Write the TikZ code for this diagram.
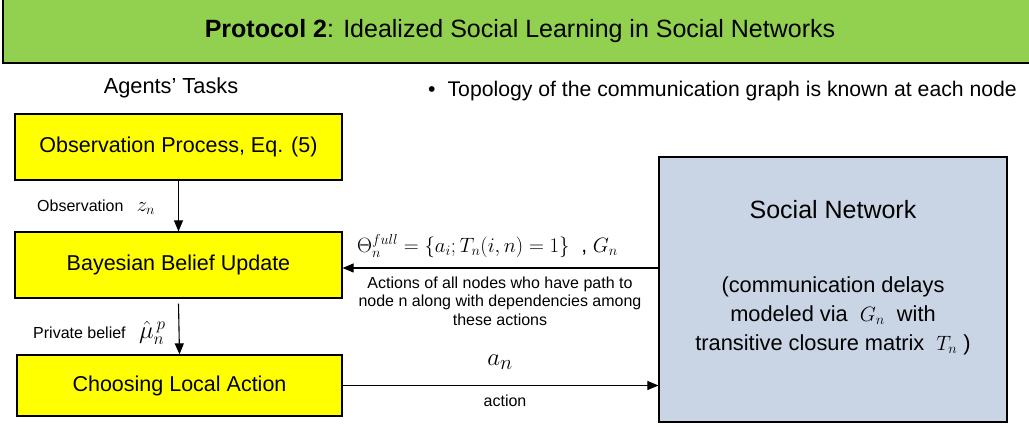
\documentclass[tikz,border=0pt]{standalone}
\usepackage{fontspec}
\setmainfont{Liberation Sans}
\usetikzlibrary{arrows.meta}
\definecolor{titlegreen}{HTML}{92D050}
\definecolor{boxyellow}{HTML}{FFFF00}
\definecolor{snblue}{HTML}{C9D5E4}
\tikzset{
  ybox/.style={draw=black, line width=1.2pt, fill=boxyellow, minimum width=327pt, minimum height=66pt, inner sep=0pt, font=\fontsize{21.5}{25}\selectfont},
  snbox/.style={draw=black, line width=1.2pt, fill=snblue, minimum width=348pt, minimum height=265pt, inner sep=0pt},
  arr/.style={line width=1.1pt, -{Triangle[length=11pt,width=9pt]}},
  small/.style={font=\fontsize{16}{19}\selectfont, inner sep=0pt},
  mid/.style={font=\fontsize{21.8}{26}\selectfont, inner sep=0pt}
}
\begin{document}
\begin{tikzpicture}[x=1pt,y=-1pt]
\useasboundingbox (0,0) rectangle (1029,427);
\clip (0,0) rectangle (1029,427);
\fill[white] (0,0) rectangle (1029,427);
% title bar
\node[draw=black, line width=1.2pt, fill=titlegreen, minimum width=1040pt, minimum height=70pt, inner sep=0pt] (title) at (523,28) {};
\node[font=\fontsize{25}{28}\selectfont, inner sep=0pt] (titletext) at (520,31) {\textbf{Protocol 2}: Idealized Social Learning in Social Networks};
% headings
\node[mid] (agents) at (171,88) {Agents’ Tasks};
\node[inner sep=0pt, anchor=west, font=\fontsize{21.2}{26}\selectfont] (topo) at (428,91) {\textbullet\hspace{12pt}Topology of the communication graph is known at each node};
% boxes
\node[ybox] (obs) at (178.5,147) {Observation Process, Eq. (5)};
\node[ybox] (bayes) at (178.5,265) {Bayesian Belief Update};
\node[ybox, minimum width=325pt, minimum height=61pt] (choose) at (179.5,385.5) {Choosing Local Action};
\node[snbox] (sn) at (833,289.5) {};
\node[font=\fontsize{25}{29}\selectfont, inner sep=0pt] (snt) at (833,210) {Social Network};
\node[align=center, font=\fontsize{21.8}{29}\selectfont, inner sep=0pt] (snd) at (833,316) {(communication delays\\ modeled via \ $G_n$ \ with\\ transitive closure matrix \ $T_n$ )};
% arrows
\draw[arr] (obs.south) -- (bayes.north);
\draw[arr] ([yshift=-5pt]bayes.south) -- (choose.north);
\draw[arr] ([yshift=-3pt]sn.west |- bayes.east) -- ([yshift=-3pt]bayes.east);
\draw[arr] (choose.east) -- (choose.east -| sn.west);
% labels
\node[small, anchor=west] (obsl) at (37,207) {Observation \ \ \fontsize{22}{24}\selectfont$z_n$};
\node[small, anchor=west] (privl) at (33,333) {Private belief \ \ \fontsize{24}{26}\selectfont$\hat{\mu}_n^{\,p}$};
\node[font=\fontsize{21}{24}\selectfont, inner sep=0pt, anchor=west] (theta) at (357,246) {$\Theta_n^{full}=\{a_i;T_n(i,n)=1\}$ \ , $G_n$};
\node[small, align=center, font=\fontsize{16}{18.5}\selectfont] (acts) at (500,301) {Actions of all nodes who have path to\\ node n along with dependencies among\\ these actions};
\node[font=\fontsize{32}{34}\selectfont, inner sep=0pt] (an) at (500,362) {$a_n$};
\node[small] (actl) at (505,401) {action};
\end{tikzpicture}
\end{document}
